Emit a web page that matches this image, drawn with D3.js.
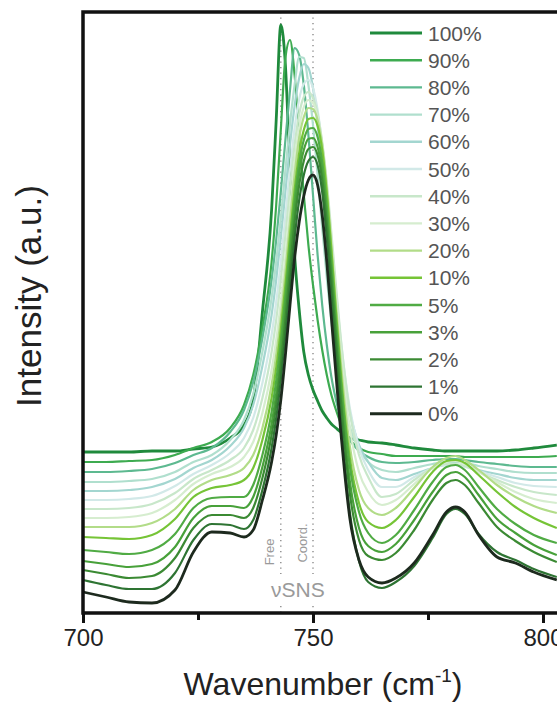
<!DOCTYPE html>
<html><head><meta charset="utf-8">
<script src="https://cdn.jsdelivr.net/npm/d3@7"></script>
<style>
html,body{margin:0;padding:0;background:#fff;}
svg{display:block;font-family:"Liberation Sans",Arial,sans-serif;}
</style></head>
<body>
<div id="chart"></div>
<script>
// ---- data ----
const wavenumbers = [700,705,710,715,720,724,728,732,735,737,739,741,742,743,744,745,746,747,748,749,750,751,752,753,754,755,756,757,758,760,762,765,768,772,776,779,781,783,786,790,794,798,803];
const seriesLabels = ["100%","90%","80%","70%","60%","50%","40%","30%","20%","10%","5%","3%","2%","1%","0%"];
const seriesColors = ["#1f8a3c","#3dab50","#5db990","#b0dfce","#a3d6d0","#d2e9e8","#c8e7ca","#d6edcf","#b2dc88","#76c436","#50ab44","#48a13a","#3b8a33","#2e7433","#1d2a1e"];
const i100 = [161,161,161,162,162,164,166,175,188,213,301,403,493,588,548,443,358,303,261,238,223,212,202,195,189,185,181,178,175,173,171,170,168,165,163,162,162,162,162,162,163,165,168];
const i90  = [151,151,152,153,158,165,171,185,208,238,285,351,408,483,555,573,538,478,418,368,328,293,263,238,218,203,190,180,173,165,161,159,157,157,157,157,157,156,156,156,156,156,157];
const i80  = [141,141,142,144,150,158,165,181,203,231,275,333,373,421,473,523,565,558,528,478,418,358,308,268,236,213,195,182,173,162,156,151,150,151,153,154,154,153,151,149,147,146,146];
const i70  = [131,131,132,134,141,151,158,173,193,219,261,315,351,395,443,489,528,556,555,528,488,438,385,335,291,255,225,203,186,163,151,143,141,145,149,151,151,150,147,144,141,140,140];
const i60  = [122,122,123,126,134,145,153,167,185,208,247,298,333,375,421,468,507,535,549,545,525,488,441,391,341,295,256,225,201,168,151,135,133,139,145,148,148,147,143,139,135,133,133];
const i50  = [113,113,114,117,127,139,148,160,175,195,230,278,311,351,397,443,485,514,529,533,525,503,468,423,371,320,275,236,205,165,143,126,126,136,145,148,148,146,142,136,130,127,126];
const i40  = [104,104,105,109,120,134,143,153,165,183,215,261,293,333,378,425,468,499,516,521,515,499,471,431,380,327,277,235,201,158,136,116,119,133,145,149,149,147,141,133,126,121,118];
const i30  = [95,95,96,100,113,129,139,146,156,171,200,243,273,311,356,405,451,486,506,513,510,496,469,427,373,317,265,220,185,141,121,108,113,129,145,151,152,149,141,131,121,114,110];
const i20  = [86,86,86,90,104,123,133,138,145,158,185,228,258,295,341,391,438,475,496,505,504,493,468,425,368,308,253,205,167,123,105,98,105,125,146,155,157,153,143,128,116,107,100];
const i10  = [76,75,74,78,94,116,125,128,133,145,173,215,245,283,328,377,423,460,483,494,495,487,463,420,363,301,243,193,155,110,91,85,93,116,141,152,153,150,138,121,106,95,85];
const i5   = [63,61,59,63,79,105,115,116,116,128,158,201,232,271,317,366,413,450,473,484,485,476,451,407,351,291,235,186,147,101,80,70,78,103,131,146,148,143,126,104,89,78,70];
const i3   = [52,49,46,49,66,95,107,107,105,116,146,189,219,258,305,355,403,440,463,474,475,466,441,397,341,280,223,173,132,85,67,61,69,93,121,138,141,136,118,94,80,68,58];
const i2   = [43,39,35,37,55,85,98,98,95,105,135,178,208,247,293,343,391,428,452,464,466,458,433,389,333,273,215,163,120,73,57,53,60,83,113,130,133,128,110,86,72,61,51];
const i1   = [33,28,24,24,40,73,89,88,84,93,123,165,195,233,278,328,375,413,438,452,456,448,421,375,317,256,198,145,101,52,31,25,31,47,75,99,104,99,79,61,53,44,36];
const i0   = [21,16,11,10,23,61,81,80,76,83,113,151,178,213,258,308,355,391,417,433,438,428,398,351,295,238,183,135,95,53,36,30,35,50,78,101,106,101,78,56,50,41,33];
const seriesValues = [i100,i90,i80,i70,i60,i50,i40,i30,i20,i10,i5,i3,i2,i1,i0];
const majorTicks = [700,750,800];
const minorTicks = [725,775];
const markerLines = [{wn:743,label:"Free"},{wn:750,label:"Coord."}];

// ---- layout ----
const W = 557, H = 705;
const svg = d3.select("#chart").append("svg").attr("width",W).attr("height",H);
const x = d3.scaleLinear().domain([700,805]).range([83,566]);
const y = d3.scaleLinear().domain([0,601]).range([613,12]);

// marker dotted lines
const mk = svg.append("g");
markerLines.forEach(m=>{
  mk.append("line").attr("x1",x(m.wn)).attr("x2",x(m.wn)).attr("y1",y(601)).attr("y2",y(0))
    .attr("stroke","#8a8a8a").attr("stroke-width",1.4).attr("stroke-dasharray","1.3,4.2");
});
mk.append("text").attr("transform",`translate(${x(743)-7},552) rotate(-90)`)
  .attr("text-anchor","middle").attr("font-size",13).attr("fill","#9a9a9a").text("Free");
mk.append("text").attr("transform",`translate(${x(750)-6},543) rotate(-90)`)
  .attr("text-anchor","middle").attr("font-size",13).attr("fill","#9a9a9a").text("Coord.");
mk.append("rect").attr("x",x(741)).attr("y",574).attr("width",x(753)-x(741)).attr("height",28).attr("fill","#fff");
mk.append("text").attr("x",(x(743)+x(750))/2+1).attr("y",597).attr("text-anchor","middle")
  .attr("font-size",21).attr("fill","#9a9a9a").text("\u03BDSNS");

// spectra
const line = d3.line().x((d,i)=>x(wavenumbers[i])).y(d=>y(d)).curve(d3.curveMonotoneX);
const g = svg.append("g");
seriesValues.forEach((vals,k)=>{
  g.append("path").datum(vals).attr("d",line).attr("fill","none")
   .attr("stroke",seriesColors[k])
   .attr("stroke-width",(k===0||k===14)?2.8:2.2)
   .attr("stroke-linejoin","round");
});

// axes
const ax = svg.append("g").attr("transform",`translate(0,${y(0)})`)
  .call(d3.axisBottom(x).tickValues(majorTicks).tickSize(10).tickPadding(6).tickSizeOuter(0).tickFormat(d3.format("d")));
ax.select(".domain").remove();
ax.selectAll(".tick line").attr("stroke","#111").attr("stroke-width",3);
ax.selectAll(".tick text").attr("font-size",24).attr("fill","#222").attr("font-family","Liberation Sans, Arial, sans-serif");
const axm = svg.append("g").attr("transform",`translate(0,${y(0)})`)
  .call(d3.axisBottom(x).tickValues(minorTicks).tickSize(7).tickFormat(""));
axm.select(".domain").remove();
axm.selectAll(".tick line").attr("stroke","#111").attr("stroke-width",3);

svg.append("path").attr("d",`M${x(805)+10},${y(601)}H${x(700)}V${y(0)}H${x(805)+10}`)
  .attr("fill","none").attr("stroke","#111").attr("stroke-width",3.5).attr("stroke-linejoin","miter");

// axis titles
const xt = svg.append("text").attr("x",323).attr("y",695).attr("text-anchor","middle")
  .attr("font-size",32).attr("fill","#222");
xt.append("tspan").text("Wavenumber (cm");
xt.append("tspan").attr("font-size",19).attr("dy",-13).text("-1");
xt.append("tspan").attr("dy",13).text(")");
svg.append("text").attr("transform","translate(41,296) rotate(-90)").attr("text-anchor","middle")
  .attr("font-size",35).attr("fill","#222").text("Intensity (a.u.)");

// legend
const lg = svg.append("g");
seriesLabels.forEach((lab,k)=>{
  const yy = 33 + k*27.2;
  lg.append("line").attr("x1",370).attr("x2",422).attr("y1",yy).attr("y2",yy)
    .attr("stroke",seriesColors[k]).attr("stroke-width",(k===0||k===14)?3:2.4);
  lg.append("text").attr("x",428).attr("y",yy).attr("dy","0.36em").attr("font-size",21)
    .attr("fill","#555").text(lab);
});
</script>
</body></html>
